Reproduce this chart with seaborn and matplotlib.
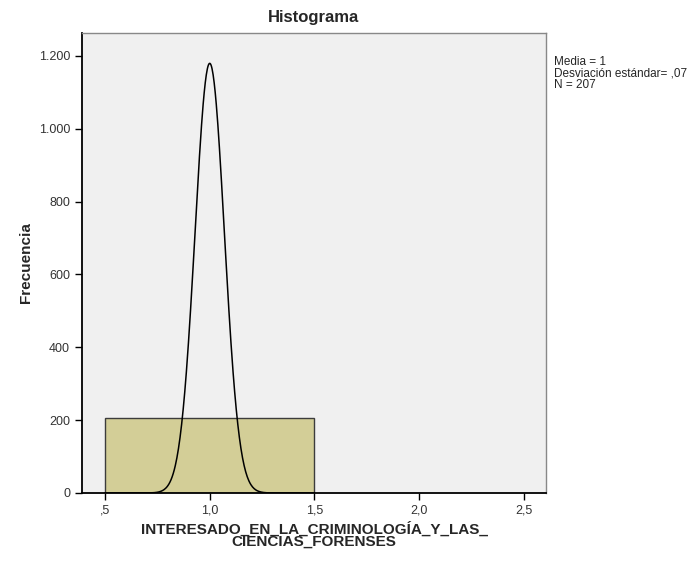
import numpy as np
import pandas as pd
import seaborn as sns
import matplotlib.pyplot as plt
from matplotlib.ticker import FuncFormatter

# datos del histograma (SPSS)
valores = [1.0]
frecuencias = [207]
bordes = [0.5, 1.5]
media = 1.0
desv = 0.07
n = 207

sns.set_style("white")
plt.rcParams['font.family'] = ['Liberation Sans', 'DejaVu Sans']

fig = plt.figure(figsize=(7, 5.62), dpi=100)
ax = fig.add_axes([0.117, 0.1228, 0.663, 0.8185])
ax.set_facecolor("#f0f0f0")

df = pd.DataFrame({"x": valores, "f": frecuencias})
sns.histplot(data=df, x="x", weights="f", bins=bordes, ax=ax,
             color="#d3ce97", edgecolor="#3c3c3c", linewidth=1, alpha=1)

# curva normal
xs = np.linspace(0.5, 1.5, 400)
ys = n * (bordes[1] - bordes[0]) / (desv * np.sqrt(2 * np.pi)) * np.exp(-0.5 * ((xs - media) / desv) ** 2)
sns.lineplot(x=xs, y=ys, ax=ax, color="black", linewidth=1.1)

ax.set_xlim(0.39, 2.605)
ax.set_ylim(0, 1263)
ax.set_xticks([0.5, 1.0, 1.5, 2.0, 2.5])
ax.set_yticks([0, 200, 400, 600, 800, 1000, 1200])

def fmt_x(v, pos):
    s = f"{v:.1f}".replace(".", ",")
    return s[1:] if s.startswith("0") else s

def fmt_y(v, pos):
    return f"{int(v):,}".replace(",", ".")

ax.xaxis.set_major_formatter(FuncFormatter(fmt_x))
ax.yaxis.set_major_formatter(FuncFormatter(fmt_y))
ax.tick_params(axis="both", direction="out", length=5, width=1, colors="black",
               labelsize=9, labelcolor="#333333", left=True, bottom=True)

for s in ["left", "bottom"]:
    ax.spines[s].set_color("black")
    ax.spines[s].set_linewidth(1.3)
for s in ["top", "right"]:
    ax.spines[s].set_color("#888888")
    ax.spines[s].set_linewidth(1)

ax.set_title("Histograma", fontsize=12, fontweight="bold", pad=8)
ax.set_ylabel("Frecuencia", fontsize=11, fontweight="bold", labelpad=4)
ax.set_xlabel("INTERESADO_EN_LA_CRIMINOLOGÍA_Y_LAS_\nCIENCIAS_FORENSES", fontsize=11,
              fontweight="bold", linespacing=0.85, labelpad=3)

fig.text(0.792, 0.9, "Media = 1\nDesviación estándar= ,07\nN = 207",
         fontsize=8.5, va="top", ha="left", linespacing=0.95)

plt.savefig("out.png", dpi=100)
